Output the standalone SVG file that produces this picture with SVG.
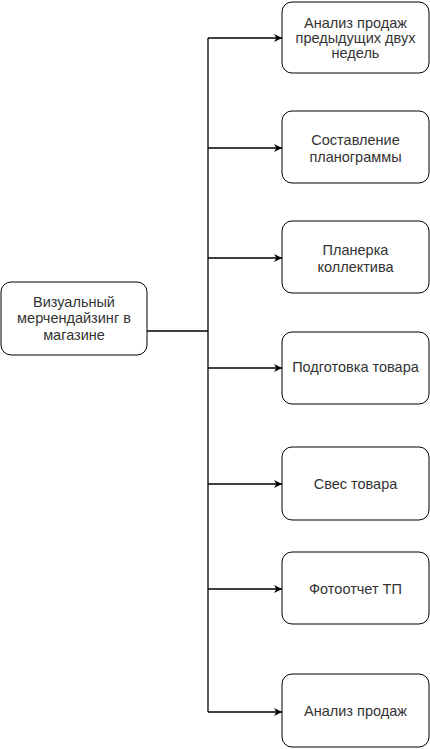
<svg xmlns="http://www.w3.org/2000/svg" width="430" height="749" viewBox="0 0 430 749">
<style>
.box{fill:#fff;stroke:#000;stroke-width:1}
.t{font-family:"Liberation Sans",Arial,sans-serif;font-size:14.5px;fill:#333;text-anchor:middle;dominant-baseline:central}
.c{fill:none;stroke:#000;stroke-width:1.3}
</style>
<defs>
<marker id="ah" viewBox="0 0 10 10" refX="10" refY="5" markerWidth="8" markerHeight="8" markerUnits="userSpaceOnUse" orient="auto">
<path d="M0,0 L10,5 L0,10 L3,5 Z" fill="#000"/>
</marker>
</defs>
<rect width="430" height="749" fill="#fff"/>
<g id="connectors">
<path class="c" d="M147,331 H208"/>
<path class="c" d="M208,38 V712"/>
<path class="c" d="M208,38 H282" marker-end="url(#ah)"/>
<path class="c" d="M208,148 H282" marker-end="url(#ah)"/>
<path class="c" d="M208,258 H282" marker-end="url(#ah)"/>
<path class="c" d="M208,368 H282" marker-end="url(#ah)"/>
<path class="c" d="M208,484 H282" marker-end="url(#ah)"/>
<path class="c" d="M208,589 H282" marker-end="url(#ah)"/>
<path class="c" d="M208,712 H282" marker-end="url(#ah)"/>
</g>
<g id="root">
<rect class="box" x="1" y="282" width="146" height="73" rx="10"/>
<text class="t" x="74" y="302">Визуальный</text>
<text class="t" x="74" y="318">мерчендайзинг в</text>
<text class="t" x="74" y="335">магазине</text>
</g>
<g id="n1">
<rect class="box" x="282" y="2" width="147" height="71" rx="10"/>
<text class="t" x="355.5" y="23">Анализ продаж</text>
<text class="t" x="355.5" y="38">предыдущих двух</text>
<text class="t" x="355.5" y="53">недель</text>
</g>
<g id="n2">
<rect class="box" x="282" y="111" width="147" height="72" rx="10"/>
<text class="t" x="355.5" y="140">Составление</text>
<text class="t" x="355.5" y="157">планограммы</text>
</g>
<g id="n3">
<rect class="box" x="282" y="221" width="147" height="72" rx="10"/>
<text class="t" x="355.5" y="250">Планерка</text>
<text class="t" x="355.5" y="267">коллектива</text>
</g>
<g id="n4">
<rect class="box" x="282" y="332" width="147" height="72" rx="10"/>
<text class="t" x="355.5" y="367">Подготовка товара</text>
</g>
<g id="n5">
<rect class="box" x="282" y="447" width="147" height="73" rx="10"/>
<text class="t" x="355.5" y="484">Свес товара</text>
</g>
<g id="n6">
<rect class="box" x="282" y="552" width="147" height="72" rx="10"/>
<text class="t" x="355.5" y="589">Фотоотчет ТП</text>
</g>
<g id="n7">
<rect class="box" x="282" y="674" width="147" height="73" rx="10"/>
<text class="t" x="355.5" y="711">Анализ продаж</text>
</g>
</svg>
